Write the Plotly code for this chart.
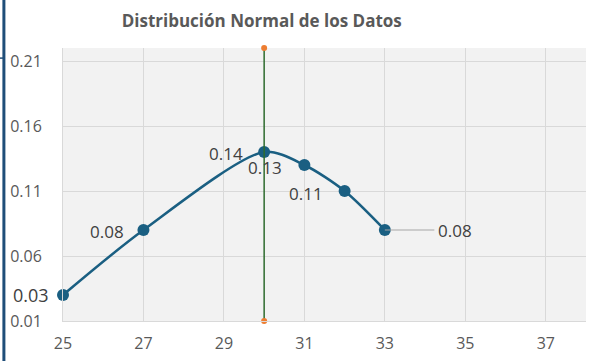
import plotly.graph_objects as go

# Datos de la distribución
x_vals = [25, 27, 30, 31, 32, 33]
y_vals = [0.03, 0.08, 0.14, 0.13, 0.11, 0.08]
labels = ["0.03", "0.08", "0.14", "0.13", "0.11", "0.08"]

# Línea vertical de la media
mean_x = 30
y_range = [0.01, 0.22]
x_range = [25, 38]
x_ticks = [25, 27, 29, 31, 33, 35, 37]
y_ticks = [0.01, 0.06, 0.11, 0.16, 0.21]

font_family = "Open Sans, sans-serif"
text_color = "#595959"
label_color = "#404040"
line_color = "#1a5f82"

fig = go.Figure()

fig.add_trace(go.Scatter(
    x=x_vals, y=y_vals, mode="lines+markers",
    line=dict(color=line_color, width=2.5, shape="spline", smoothing=0.8),
    marker=dict(size=12, color=line_color),
    cliponaxis=False, showlegend=False, hoverinfo="skip",
))

fig.add_trace(go.Scatter(
    x=[mean_x, mean_x], y=y_range, mode="lines+markers",
    line=dict(color="#2e6b2e", width=1.5),
    marker=dict(size=6, color="#ed7d31"),
    cliponaxis=False, showlegend=False, hoverinfo="skip",
))

# Etiquetas de datos
shifts = [-32, -36, -38, -39, -39, 0]
yshifts = [0, -1, -1, -2, -2, 0]
for i, (xv, yv, lab) in enumerate(zip(x_vals, y_vals, labels)):
    if i == len(x_vals) - 1:
        fig.add_annotation(
            x=xv, y=yv, text=lab, showarrow=True, arrowhead=0,
            arrowcolor="#a6a6a6", arrowwidth=1, ax=70, ay=0,
            standoff=0, startstandoff=2,
            font=dict(family=font_family, size=17, color=label_color),
        )
    else:
        fig.add_annotation(
            x=xv, y=yv, text=lab, showarrow=False,
            xshift=shifts[i], yshift=yshifts[i],
            font=dict(family=font_family, size=18 if i == 0 else 17,
                      color=label_color),
        )

# Barra lateral izquierda
fig.add_shape(type="line", xref="paper", yref="paper",
              x0=-0.113, x1=-0.113, y0=-0.2, y1=1.2,
              line=dict(color="#1f4e79", width=3))
fig.add_shape(type="line", xref="paper", yref="paper",
              x0=-0.125, x1=-0.113, y0=0.963, y1=0.963,
              line=dict(color="#1f4e79", width=1.5))

fig.update_layout(
    width=597, height=361,
    margin=dict(l=63, r=11, t=48, b=40),
    paper_bgcolor="white", plot_bgcolor="#f2f2f2",
    font=dict(family=font_family, size=16, color=text_color),
    title=dict(text="<b>Distribución Normal de los Datos</b>",
               x=0.38, xref="paper", xanchor="center",
               y=1 - 21 / 361, yref="container", yanchor="middle",
               font=dict(family=font_family, size=17, color=text_color)),
    xaxis=dict(range=x_range, tickvals=x_ticks, showgrid=True,
               gridcolor="#d9d9d9", gridwidth=1, zeroline=False,
               showline=True, linecolor="#d9d9d9", linewidth=1,
               ticks="outside", ticklen=8, tickcolor="rgba(0,0,0,0)",
               automargin=False,
               tickfont=dict(size=16, color=text_color)),
    yaxis=dict(range=y_range, tickvals=y_ticks,
               ticktext=[f"{v:.2f}" for v in y_ticks], showgrid=True,
               gridcolor="#d9d9d9", gridwidth=1, zeroline=False,
               showline=True, linecolor="#d9d9d9", linewidth=1,
               ticks="outside", ticklen=17, tickcolor="rgba(0,0,0,0)",
               automargin=False,
               tickfont=dict(size=16, color=text_color)),
)

fig.write_html("out.html")
